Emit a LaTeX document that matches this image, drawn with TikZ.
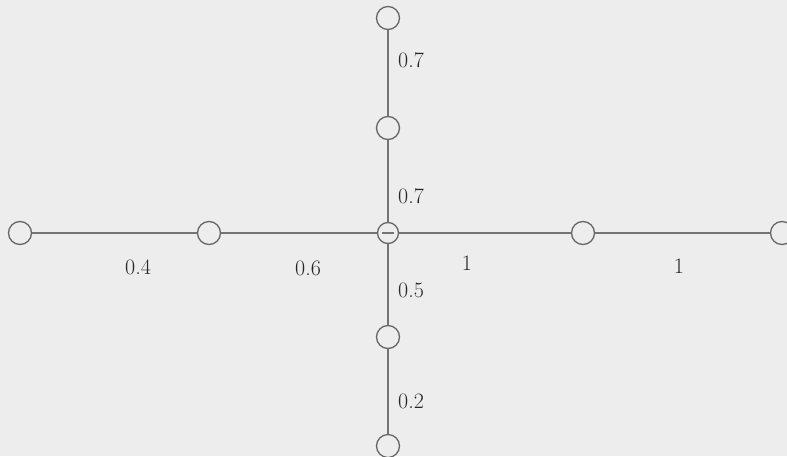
\documentclass[tikz,border=0pt]{standalone}
\begin{document}
\begin{tikzpicture}[x=1pt,y=-1pt,
  vert/.style={draw=black!60,line width=1.3pt,circle,minimum size=23pt,inner sep=0pt},
  edge/.style={draw=black!55,line width=1.2pt},
  lab/.style={text=black!85,font=\fontsize{22}{26}\selectfont,inner sep=0pt}]
\fill[black!7] (0,0) rectangle (787,456);
\useasboundingbox (0,0) rectangle (787,456);
% nodes
\node[vert] (l1) at (20,233) {};
\node[vert] (l2) at (209,233) {};
\node[vert,minimum size=21pt] (c) at (388,233) {};
\node[vert] (r1) at (583,233) {};
\node[vert] (r2) at (782,233) {};
\node[vert] (t2) at (388,18) {};
\node[vert] (t1) at (388,128) {};
\node[vert] (b1) at (388,337) {};
\node[vert] (b2) at (388,446) {};
% edges
\draw[edge] (l1) -- (l2);
\draw[edge] (l2) -- (c.west);
\draw[edge] (c.east) -- (r1);
\draw[edge] (r1) -- (r2);
\draw[edge] (t2) -- (t1);
\draw[edge] (t1) -- (c);
\draw[edge] (c) -- (b1);
\draw[edge] (b1) -- (b2);
\draw[edge] ([xshift=-6pt]c.center) -- ([xshift=6pt]c.center);
% labels
\node[lab,anchor=west] (w1) at (398,60) {0.7};
\node[lab,anchor=west] (w2) at (398,196) {0.7};
\node[lab,anchor=west] (w3) at (398,290) {0.5};
\node[lab,anchor=west] (w4) at (398,401) {0.2};
\node[lab] (w5) at (138,267) {0.4};
\node[lab] (w6) at (308,268) {0.6};
\node[lab] (w7) at (467,263) {1};
\node[lab] (w8) at (679,266) {1};
\end{tikzpicture}
\end{document}
